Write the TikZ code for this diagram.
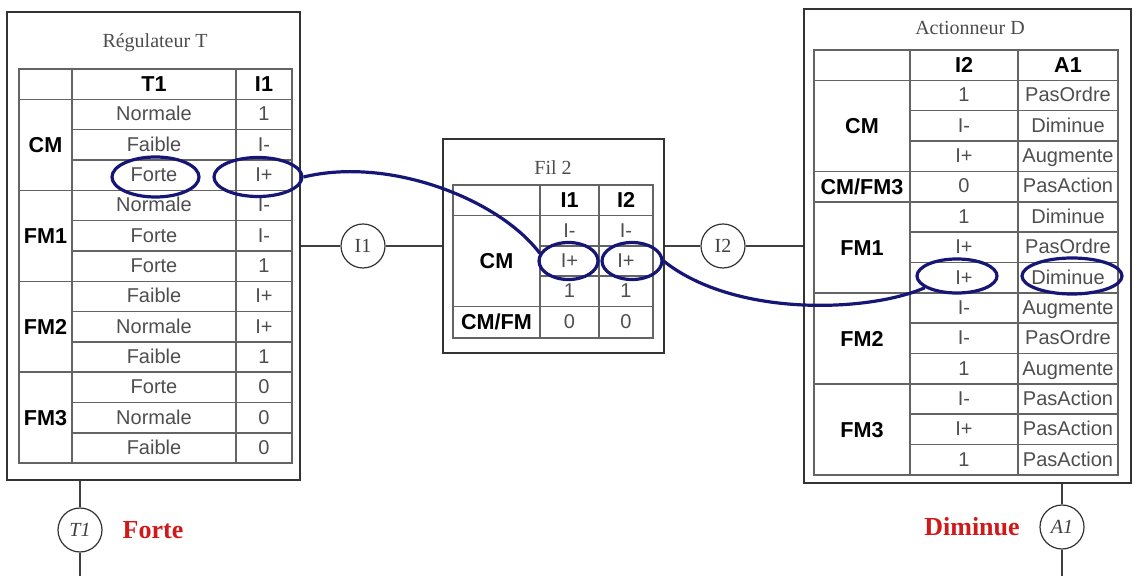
\documentclass[tikz,border=0pt]{standalone}
\usepackage{fontspec}
\setmainfont{Liberation Serif}
\setsansfont{Liberation Sans}
\usetikzlibrary{shapes.geometric}
\definecolor{ringblue}{RGB}{22,22,118}
\definecolor{celltext}{RGB}{78,78,78}
\definecolor{gridgray}{RGB}{100,100,100}
\definecolor{labelred}{RGB}{210,25,25}

\begin{document}
\begin{tikzpicture}[x=0.5pt, y=-0.5pt,
  box/.style={draw=black!80, line width=0.8pt, inner sep=0pt},
  grid/.style={draw=gridgray, line width=0.8pt},
  cell/.style={font=\sffamily\fontsize{10}{12}\selectfont, text=celltext, inner sep=0pt, text height=7.2pt, text depth=0.8pt},
  head/.style={font=\sffamily\bfseries\fontsize{10.8}{12}\selectfont, inner sep=0pt, text height=7.8pt, text depth=0pt},
  title/.style={font=\fontsize{10}{12}\selectfont, text=black!70},
  port/.style={circle, draw=black!80, line width=0.6pt, minimum size=22pt, inner sep=0pt, font=\fontsize{10}{12}\selectfont, text=black!75},
  link/.style={draw=black!75, line width=0.6pt},
  ring/.style={ellipse, draw=ringblue, line width=1.6pt, inner sep=0pt},
  result/.style={font=\bfseries\fontsize{13}{15}\selectfont, text=labelred}]

  \useasboundingbox (0,0) rectangle (1134,576);

  % Regulateur T
  \node[box, minimum width=146.5pt, minimum height=234pt] (reg) at (153.5,246) {};
  \node[title] (reg-title) at (155,43) {Régulateur T};
  \draw[grid] (19,69) rectangle (292,463);
  \draw[grid] (72,69) -- (72,463);
  \draw[grid] (236,69) -- (236,463);
  \foreach \k in {1,4,7,10}
    \draw[grid] (19,{69+30.33*\k}) -- (292,{69+30.33*\k});
  \foreach \k in {2,3,5,6,8,9,11,12}
    \draw[grid] (72,{69+30.33*\k}) -- (292,{69+30.33*\k});
  \node[head] (reg-h1) at (154,84) {T1};
  \node[head] (reg-h2) at (264,84) {I1};
  \foreach \tval/\ival [count=\r] in {Normale/1, Faible/I-, Forte/I+, Normale/I-, Forte/I-, Forte/1,
      Faible/I+, Normale/I+, Faible/1, Forte/0, Normale/0, Faible/0} {
    \node[cell] (reg-t\r) at (154,{69+30.33*(\r+0.5)}) {\tval};
    \node[cell] (reg-i\r) at (264,{69+30.33*(\r+0.5)}) {\ival};
  }
  \foreach \grp [count=\g] in {CM, FM1, FM2, FM3}
    \node[head] (reg-g\g) at (45.5,{69+30.33*(3*\g-0.5)}) {\grp};

  % Fil 2
  \node[box, minimum width=110.5pt, minimum height=107pt] (fil) at (553.5,246) {};
  \node[title] (fil-title) at (553,168) {Fil 2};
  \draw[grid] (453,185) rectangle (653,338);
  \draw[grid] (540,185) -- (540,338);
  \draw[grid] (599,185) -- (599,338);
  \draw[grid] (453,215.6) -- (653,215.6);
  \draw[grid] (453,306.4) -- (653,306.4);
  \draw[grid] (540,246) -- (653,246);
  \draw[grid] (540,276) -- (653,276);
  \node[head] (fil-h1) at (569.5,200) {I1};
  \node[head] (fil-h2) at (626,200) {I2};
  \foreach \val/\yy [count=\r] in {I-/230.8, I+/261, 1/291.2, 0/322.2} {
    \node[cell] (fil-a\r) at (569.5,\yy) {\val};
    \node[cell] (fil-b\r) at (626,\yy) {\val};
  }
  \node[head] (fil-g1) at (496.5,261) {CM};
  \node[head] (fil-g2) at (496.5,322.2) {CM/FM};

  % Actionneur D
  \node[box, minimum width=163.5pt, minimum height=237pt] (act) at (967.5,246) {};
  \node[title] (act-title) at (970,28) {Actionneur D};
  \draw[grid] (814,50) rectangle (1118,475);
  \draw[grid] (910,50) -- (910,475);
  \draw[grid] (1018,50) -- (1018,475);
  \foreach \k in {1,4,5,8,11}
    \draw[grid] (814,{50+30.35*\k}) -- (1118,{50+30.35*\k});
  \foreach \k in {2,3,6,7,9,10,12,13}
    \draw[grid] (910,{50+30.35*\k}) -- (1118,{50+30.35*\k});
  \node[head] (act-h1) at (964,65) {I2};
  \node[head] (act-h2) at (1068,65) {A1};
  \foreach \ival/\aval [count=\r] in {1/PasOrdre, I-/Diminue, I+/Augmente, 0/PasAction,
      1/Diminue, I+/PasOrdre, I+/Diminue, I-/Augmente, I-/PasOrdre, 1/Augmente,
      I-/PasAction, I+/PasAction, 1/PasAction} {
    \node[cell] (act-i\r) at (964,{50+30.35*(\r+0.5)}) {\ival};
    \node[cell] (act-a\r) at (1068,{50+30.35*(\r+0.5)}) {\aval};
  }
  \node[head] (act-g1) at (862,{50+30.35*2.5}) {CM};
  \node[head] (act-g2) at (862,{50+30.35*4.5}) {CM/FM3};
  \node[head] (act-g3) at (862,{50+30.35*6.5}) {FM1};
  \node[head] (act-g4) at (862,{50+30.35*9.5}) {FM2};
  \node[head] (act-g5) at (862,{50+30.35*12.5}) {FM3};

  % Wires between the blocks
  \node[port] (i1) at (363,246) {I1};
  \node[port] (i2) at (723,246) {I2};
  \draw[link] (reg) -- (i1) -- (fil);
  \draw[link] (fil) -- (i2) -- (act);

  % Input and output
  \node[port] (t1) at (80,530) {\textit{T1}};
  \coordinate (t1-end) at (80,576);
  \draw[link] (reg.south -| t1) -- (t1) -- (t1-end);
  \node[result] (t1-val) at (153,530) {Forte};
  \node[port] (a1) at (1062,527) {\textit{A1}};
  \coordinate (a1-end) at (1062,576);
  \draw[link] (act.south -| a1) -- (a1) -- (a1-end);
  \node[result] (a1-val) at (972,527) {Diminue};

  % Highlighted path
  \node[ring, minimum width=43.5pt, minimum height=20pt] (ring-forte) at (155.5,177) {};
  \node[ring, minimum width=44pt, minimum height=19.5pt] (ring-i1) at (258,177) {};
  \node[ring, minimum width=29.5pt, minimum height=18.5pt] (ring-fa) at (568.5,261) {};
  \node[ring, minimum width=30pt, minimum height=18.5pt] (ring-fb) at (632,261) {};
  \node[ring, minimum width=40pt, minimum height=17pt] (ring-i2) at (957,276) {};
  \node[ring, minimum width=50pt, minimum height=18pt] (ring-a1) at (1072,276) {};
  \draw[ringblue, line width=1.6pt] (ring-i1.east) .. controls (390,156) and (500,200) .. (ring-fa.165);
  \draw[ringblue, line width=1.6pt] (ring-fb.east) .. controls (735,318) and (870,312) .. (ring-i2.200);
\end{tikzpicture}
\end{document}
